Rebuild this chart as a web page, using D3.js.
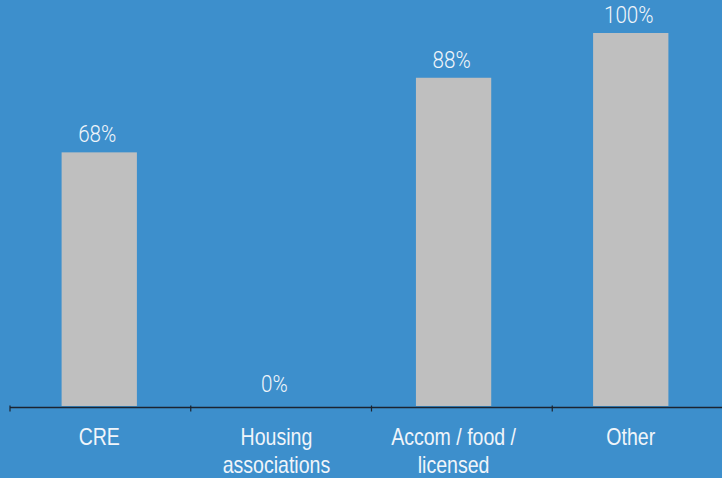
<!DOCTYPE html>
<html>
<head>
<meta charset="utf-8">
<script src="https://cdn.jsdelivr.net/npm/d3@7"></script>
<style>
  html, body { margin: 0; padding: 0; background: #3d8fcc; }
  svg { display: block; }
</style>
</head>
<body>
<svg id="chart" width="722" height="478"></svg>
<script>
// Share of lending by sector
const categories = ["CRE", "Housing associations", "Accom / food / licensed", "Other"];
const categoryLines = [["CRE"], ["Housing", "associations"], ["Accom / food /", "licensed"], ["Other"]];
const values = [68, 0, 88, 100];
const valueLabels = ["68%", "0%", "88%", "100%"];

const W = 722, H = 478;
const svg = d3.select("#chart");

svg.append("rect").attr("width", W).attr("height", H).attr("fill", "#3d8fcc");

const baseY = 406;
const y = d3.scaleLinear().domain([0, 100]).range([baseY, 33]);

const x = d3.scaleBand()
  .domain(categories)
  .range([12, 718])
  .paddingInner(0.575)
  .paddingOuter(0.28);

// axis scale spans the full category slots
const xAxisScale = d3.scaleBand().domain(categories).range([10, 733]).padding(0);

// bars
svg.selectAll("rect.bar")
  .data(categories)
  .enter().append("rect")
  .attr("class", "bar")
  .attr("x", d => x(d))
  .attr("width", x.bandwidth())
  .attr("y", (d, i) => y(values[i]))
  .attr("height", (d, i) => baseY - y(values[i]))
  .attr("fill", "#bfbfbf");

// value labels (slightly condensed)
svg.selectAll("g.val")
  .data(categories)
  .enter().append("g")
  .attr("class", "val")
  .attr("transform", (d, i) =>
    `translate(${x(d) + x.bandwidth() / 2 - 2},${y(values[i]) - (values[i] === 0 ? 14 : 10)}) scale(0.86,1)`)
  .append("text")
  .attr("text-anchor", "middle")
  .attr("fill", "#f0f5fa")
  .style("font-family", "Roboto, sans-serif")
  .style("font-weight", 300)
  .style("font-size", "24px")
  .text((d, i) => valueLabels[i]);

// baseline axis
const axisY = 407.5;
svg.append("line")
  .attr("x1", xAxisScale.range()[0]).attr("x2", W)
  .attr("y1", axisY).attr("y2", axisY)
  .attr("stroke", "#1c2430").attr("stroke-width", 1.5);

svg.selectAll("line.tick")
  .data(categories)
  .enter().append("line")
  .attr("class", "tick")
  .attr("x1", d => xAxisScale(d)).attr("x2", d => xAxisScale(d))
  .attr("y1", axisY - 2).attr("y2", axisY + 4)
  .attr("stroke", "#1c2430").attr("stroke-width", 1.2);

// category labels (narrow face)
const cat = svg.selectAll("g.cat")
  .data(categories)
  .enter().append("g")
  .attr("class", "cat")
  .attr("transform", d => `translate(${x(d) + x.bandwidth() / 2},0) scale(0.85,1)`)
  .append("text")
  .attr("text-anchor", "middle")
  .attr("fill", "#f0f5fa")
  .style("font-family", "'Liberation Sans', Arial, sans-serif")
  .style("font-size", "23px");

cat.each(function(d, i) {
  const t = d3.select(this);
  categoryLines[i].forEach((line, j) => {
    t.append("tspan")
      .attr("x", 0)
      .attr("y", 445 + j * 28)
      .text(line);
  });
});
</script>
</body>
</html>
